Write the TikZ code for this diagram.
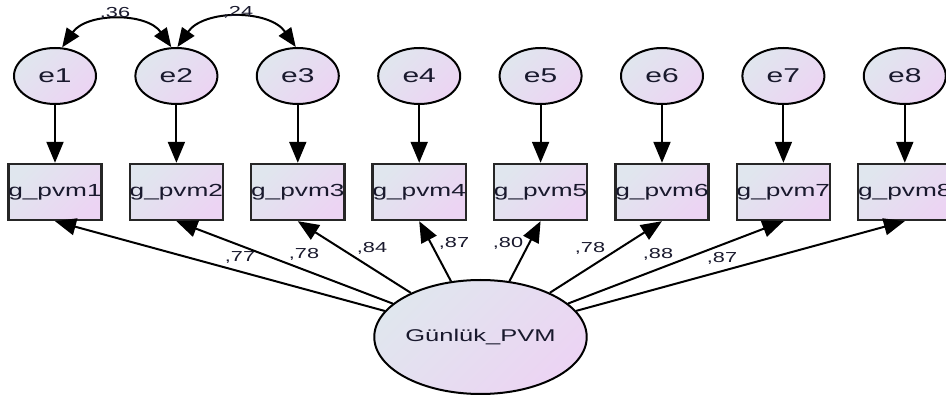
\documentclass[tikz,border=0pt]{standalone}
\usepackage{fontspec}
\setmainfont[FakeStretch=1.5]{Liberation Sans}
\usepackage{xcolor}
\usetikzlibrary{arrows.meta,shapes.geometric}

\definecolor{fillA}{RGB}{224,230,238}
\definecolor{fillB}{RGB}{236,212,243}
\definecolor{txtc}{RGB}{25,25,45}

\begin{document}
\begin{tikzpicture}[x=1pt,y=1pt,
  shadefill/.style={top color=fillA, bottom color=fillB, shading angle=45},
  err/.style={ellipse, draw, line width=2pt, shadefill, minimum width=82pt,
    minimum height=56pt, inner sep=0pt, text=txtc, font=\fontsize{20}{20}\selectfont},
  obs/.style={rectangle, draw=black!85, line width=2.4pt, shadefill, minimum width=93pt,
    minimum height=56pt, inner sep=0pt, text=txtc, font=\fontsize{17.5}{18}\selectfont},
  lat/.style={ellipse, draw, line width=2pt, shadefill, minimum width=187pt,
    minimum height=114pt, inner sep=0pt, text=txtc, font=\fontsize{17}{18}\selectfont},
  regarrow/.style={line width=2pt, -{Triangle[length=21pt,width=17pt]}},
  covarrow/.style={line width=2pt,
    {Triangle[length=19pt,width=15pt]}-{Triangle[length=19pt,width=15pt]}},
  coef/.style={inner sep=0pt, text=txtc, font=\fontsize{14.5}{15}\selectfont}
]

% ============================================================
% 参数区
% ============================================================

\def\Gap{121.4}    % 每列间距
\def\ErrY{323}     % 误差项高度
\def\ObsY{207}     % 观测变量高度

\useasboundingbox (0,0) rectangle (946,399);

% ============================================================
% 误差项与观测变量
% ============================================================

\foreach \i in {1,...,8} {
  \pgfmathsetmacro{\x}{55+\Gap*(\i-1)}
  \node[err] (e\i) at (\x,\ErrY) {e\i};
  \node[obs] (b\i) at (\x,\ObsY) {g\_pvm\i};
  \draw[regarrow] (e\i) -- (b\i);
}

% ============================================================
% 潜变量
% ============================================================

\node[lat] (G) at (480.5,62) {Günlük\_PVM};

\foreach \i/\v/\lx/\ly in {1/77/240/142, 2/78/304/145, 3/84/372/151, 4/87/454/156,
                           5/80/508/156, 6/78/590/151, 7/88/658/145, 8/87/722/141} {
  \draw[regarrow] (G) -- (b\i.south);
  \node[coef] (l\i) at (\lx,\ly) {,\v};
}

% ============================================================
% 协方差
% ============================================================

\draw[covarrow] (e1.76) to[out=55,in=125] (e2.100);
\draw[covarrow] (e2.88) to[out=55,in=125] (e3.94);

\node[coef] (c12) at (115,386) {,36};
\node[coef] (c23) at (238,387) {,24};

\end{tikzpicture}
\end{document}
